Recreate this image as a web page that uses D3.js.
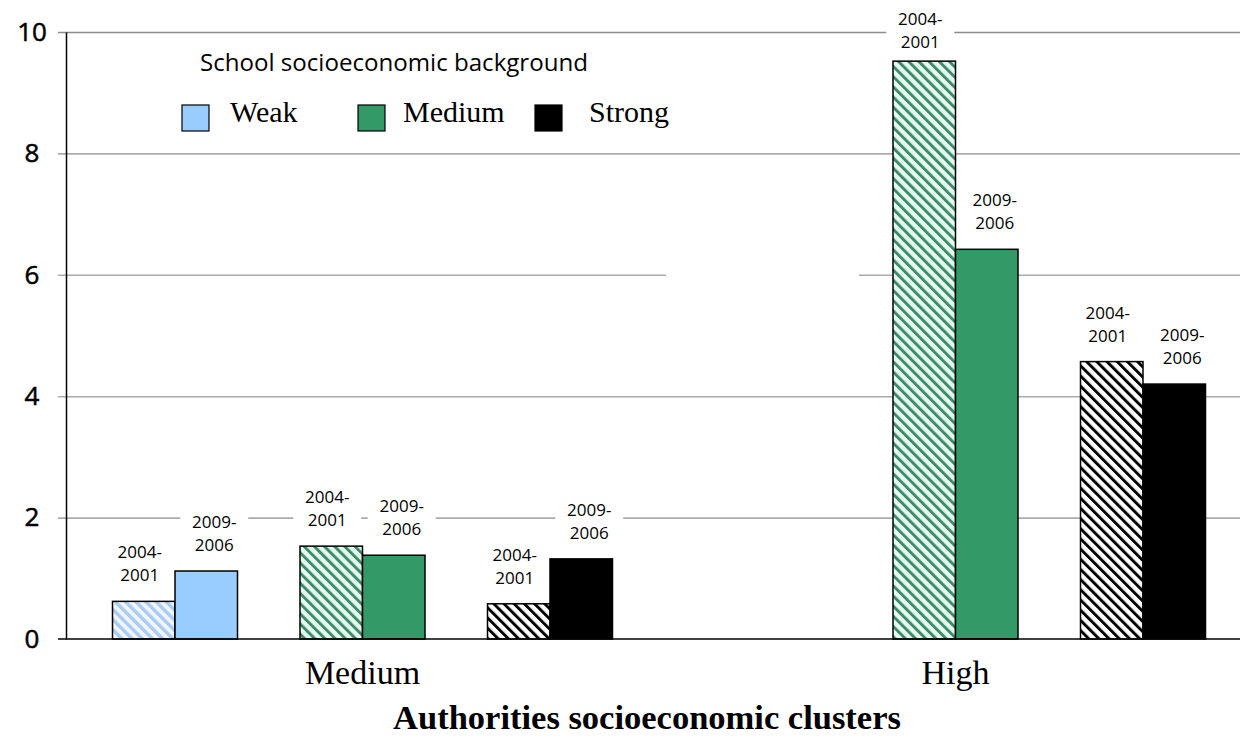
<!DOCTYPE html>
<html><head><meta charset="utf-8">
<script src="https://cdn.jsdelivr.net/npm/d3@7"></script>
<style>body{margin:0;background:#fff;} svg{display:block;}</style>
</head><body><svg id="chart" width="1240" height="736"></svg>
<script>
// ---- data ----
const clusters = ["Medium", "High"];
const backgrounds = ["Weak", "Medium", "Strong"];
const periods = ["2004-2001", "2009-2006"];
const weak2004_2001 = [0.62, null];
const weak2009_2006 = [1.12, null];
const medium2004_2001 = [1.53, 9.52];
const medium2009_2006 = [1.38, 6.42];
const strong2004_2001 = [0.58, 4.57];
const strong2009_2006 = [1.32, 4.20];
const yTicks = [0, 2, 4, 6, 8, 10];

(function () {
const seriesValues = {
  "Weak": [weak2004_2001, weak2009_2006],
  "Medium": [medium2004_2001, medium2009_2006],
  "Strong": [strong2004_2001, strong2009_2006]
};
const rows = [];
clusters.forEach((c, ci) => backgrounds.forEach(b => periods.forEach((p, pi) => {
  const v = seriesValues[b][pi][ci];
  if (v != null) rows.push({cluster: c, bg: b, period: p, pi, value: v});
})));

// ---- styles ----
const solid = {Weak: "#99CCFF", Medium: "#339966", Strong: "#000000"};
const hatchStripe = {Weak: "#a9ccf2", Medium: "#3f8a66", Strong: "#000000"};
const hatchBg = {Weak: "#f1f5fa", Medium: "#e4fbf1", Strong: "#ffffff"};

const svg = d3.select("#chart");
const defs = svg.append("defs");
backgrounds.forEach(b => {
  const s = 7.2;
  const pat = defs.append("pattern").attr("id", "hatch-" + b)
    .attr("patternUnits", "userSpaceOnUse").attr("width", s).attr("height", s)
    .attr("patternTransform", "rotate(-45)");
  pat.append("rect").attr("width", s).attr("height", s).attr("fill", hatchBg[b]);
  pat.append("rect").attr("x", 0).attr("width", b === "Weak" ? 3.4 : 2.9).attr("height", s).attr("fill", hatchStripe[b]);
});

// ---- scales ----
const pLeft = 66, pRight = 1252, pTop = 32, pBottom = 639;
const x0 = d3.scaleBand().domain(clusters).range([pLeft, pRight]).paddingInner(0).paddingOuter(0);
const xBg = d3.scaleBand().domain(backgrounds).range([0, x0.bandwidth()]).paddingInner(1/3).paddingOuter(0.248);
const xP = d3.scaleBand().domain(periods).range([0, xBg.bandwidth()]).padding(0);
const y = d3.scaleLinear().domain([0, 10]).range([pBottom, pTop]);

// ---- gridlines ----
const grid = svg.append("g").attr("transform", `translate(${pLeft},0)`)
  .call(d3.axisLeft(y).tickValues(yTicks).tickSizeInner(-(pRight - pLeft)).tickSizeOuter(0).tickFormat(""));
grid.select(".domain").remove();
grid.selectAll(".tick line").attr("stroke", d => d === 10 ? "#8c8c8c" : "#ababab").attr("stroke-width", 1.6)
  .attr("x1", -8);
grid.selectAll(".tick").filter(d => d === 0).remove();

// blank text box cutting the 6 gridline
svg.append("rect").attr("x", 666).attr("y", y(6) - 6).attr("width", 193).attr("height", 12).attr("fill", "#fff");

// ---- label boxes (white) ----
const barX = d => x0(d.cluster) + xBg(d.bg) + xP(d.period);
const bw = xP.bandwidth();
const labelCx = d => barX(d) + bw / 2 + (d.pi === 0 ? -4 : 8);
const labelLine1 = d => Math.max(25, y(d.value) - 20 - 23);
const labelG = svg.append("g");
labelG.selectAll("rect").data(rows).join("rect")
  .attr("x", d => labelCx(d) - 34).attr("width", 68)
  .attr("y", d => labelLine1(d) - 20).attr("height", 48)
  .attr("fill", "#fff");

// ---- bars ----
svg.append("g").selectAll("rect").data(rows).join("rect")
  .attr("x", barX).attr("width", bw)
  .attr("y", d => y(d.value)).attr("height", d => y(0) - y(d.value))
  .attr("fill", d => d.pi === 0 ? `url(#hatch-${d.bg})` : solid[d.bg])
  .attr("stroke", "#000").attr("stroke-width", 1.5);

// ---- axes ----
const yAxis = svg.append("g").attr("transform", `translate(${pLeft},0)`)
  .call(d3.axisLeft(y).tickValues(yTicks).tickSize(0).tickPadding(0));
yAxis.select(".domain").attr("stroke", "#000").attr("stroke-width", 1.5);
yAxis.selectAll(".tick text").attr("x", -34).attr("text-anchor", "middle")
  .attr("font-family", "'Open Sans', sans-serif").attr("font-size", 26)
  .attr("stroke", "#000").attr("stroke-width", 0.5).attr("fill", "#000");
svg.append("line").attr("x1", 58).attr("x2", pRight).attr("y1", y(0)).attr("y2", y(0))
  .attr("stroke", "#000").attr("stroke-width", 1.5);

const xAxis = svg.append("g").attr("transform", `translate(0,${y(0)})`)
  .call(d3.axisBottom(x0).tickSize(0).tickPadding(0));
xAxis.select(".domain").remove();
xAxis.selectAll(".tick text").attr("y", 45).attr("dy", 0)
  .attr("font-family", "'Liberation Serif', 'Times New Roman', serif").attr("font-size", 34).attr("fill", "#000");

svg.append("text").attr("x", 647).attr("y", 729).attr("text-anchor", "middle")
  .attr("font-family", "'Liberation Serif', 'Times New Roman', serif").attr("font-weight", "bold")
  .attr("font-size", 34.5).text("Authorities socioeconomic clusters");

// ---- bar labels ----
const lbl = svg.append("g").attr("font-family", "'Open Sans', sans-serif").attr("font-size", 17).attr("fill", "#000");
lbl.selectAll("text").data(rows).join("text")
  .attr("text-anchor", "middle")
  .each(function(d) {
    const parts = d.period.split("-");
    const t = d3.select(this);
    t.append("tspan").attr("x", labelCx(d)).attr("y", labelLine1(d)).text(parts[0] + "-");
    t.append("tspan").attr("x", labelCx(d)).attr("y", labelLine1(d) + 23).text(parts[1]);
  });

// ---- legend ----
const leg = svg.append("g");
leg.append("text").attr("x", 200).attr("y", 71)
  .attr("font-family", "'Open Sans', sans-serif").attr("font-size", 23)
  .attr("textLength", 388).attr("lengthAdjust", "spacingAndGlyphs")
  .text("School socioeconomic background");
const legX = {Weak: [182, 230], Medium: [358, 403], Strong: [535, 589]};
backgrounds.forEach(b => {
  leg.append("rect").attr("x", legX[b][0]).attr("y", 105).attr("width", 27).attr("height", 26)
    .attr("fill", solid[b]).attr("stroke", "#000").attr("stroke-width", 1.2);
  leg.append("text").attr("x", legX[b][1]).attr("y", 122)
    .attr("font-family", "'Liberation Serif', 'Times New Roman', serif").attr("font-size", 30)
    .text(b);
});
})();
</script></body></html>
